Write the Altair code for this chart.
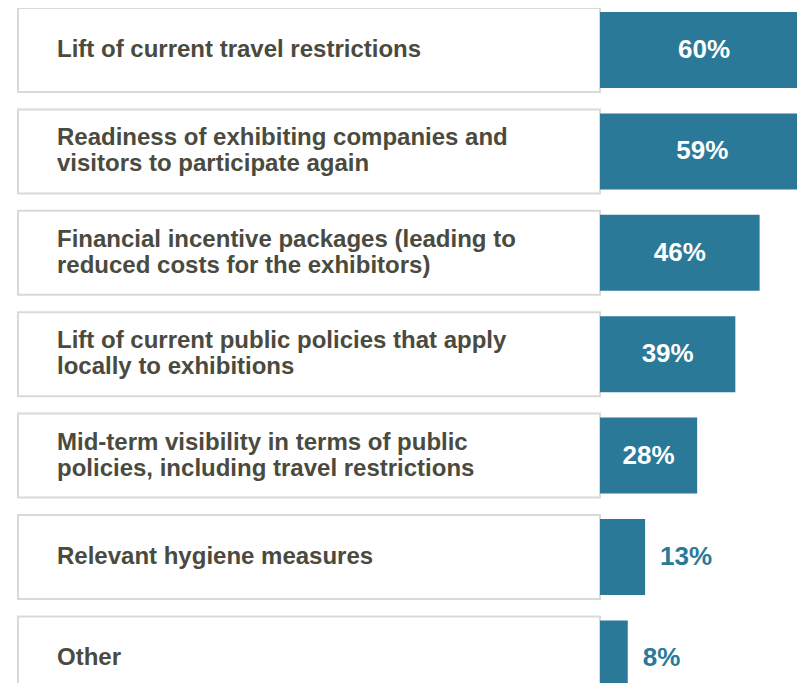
import altair as alt
import pandas as pd

categories = [
    "Lift of current travel restrictions",
    "Readiness of exhibiting companies and\nvisitors to participate again",
    "Financial incentive packages (leading to\nreduced costs for the exhibitors)",
    "Lift of current public policies that apply\nlocally to exhibitions",
    "Mid-term visibility in terms of public\npolicies, including travel restrictions",
    "Relevant hygiene measures",
    "Other",
]
values = [60, 59, 46, 39, 28, 13, 8]
labels = ["60%", "59%", "46%", "39%", "28%", "13%", "8%"]

df = pd.DataFrame({"cat": categories, "v": values, "lab": labels})

TEAL = "#2b7998"
TEXT = "#4a4a3e"
FONT = "Liberation Sans"

step = 101.4
y_start = 42 - step / 2
y_scale = alt.Scale(domain=categories, range=[y_start, y_start + 7 * step],
                    paddingInner=0, paddingOuter=0)
x_scale = alt.Scale(domain=[0, 60], range=[592, 592 + 60 * 3.47])

Y = alt.Y("cat:N", scale=y_scale, axis=None)

base = alt.Chart(df)

boxes = base.mark_bar(size=84, fill="white", stroke="#d9d9d9", strokeWidth=2).encode(
    y=Y, x=alt.value(10), x2=alt.value(592)
)

text_style = dict(align="left", baseline="middle", font=FONT, fontSize=24,
                  fontWeight="bold", color=TEXT, lineBreak="\n", lineHeight=26)

names_one = base.transform_filter("indexof(datum.cat, '\\n') < 0").mark_text(
    **text_style
).encode(y=Y, x=alt.value(49), text="cat:N")

names_two = base.transform_filter("indexof(datum.cat, '\\n') >= 0").mark_text(
    dy=-13, **text_style
).encode(y=Y, x=alt.value(49), text="cat:N")

bars = base.mark_bar(size=76, color=TEAL).encode(
    y=Y, x=alt.X("v:Q", scale=x_scale, axis=None)
)

inside = base.transform_filter("datum.v >= 20").transform_calculate(
    mid="datum.v / 2"
).mark_text(
    align="center", baseline="middle", font=FONT, fontSize=26, fontWeight="bold", color="white"
).encode(y=Y, x=alt.X("mid:Q", scale=x_scale, axis=None), text="lab:N")

outside = base.transform_filter("datum.v < 20").mark_text(
    align="left", baseline="middle", dx=15, font=FONT, fontSize=26, fontWeight="bold", color=TEAL
).encode(y=Y, x=alt.X("v:Q", scale=x_scale, axis=None), text="lab:N")

chart = alt.layer(boxes, names_one, names_two, bars, inside, outside).properties(
    width=789, height=675, padding=0, background="white",
    autosize=alt.AutoSizeParams(type="none"),
).configure_view(stroke=None)

chart.save("out.html", embed_options={"renderer": "svg", "actions": False})
